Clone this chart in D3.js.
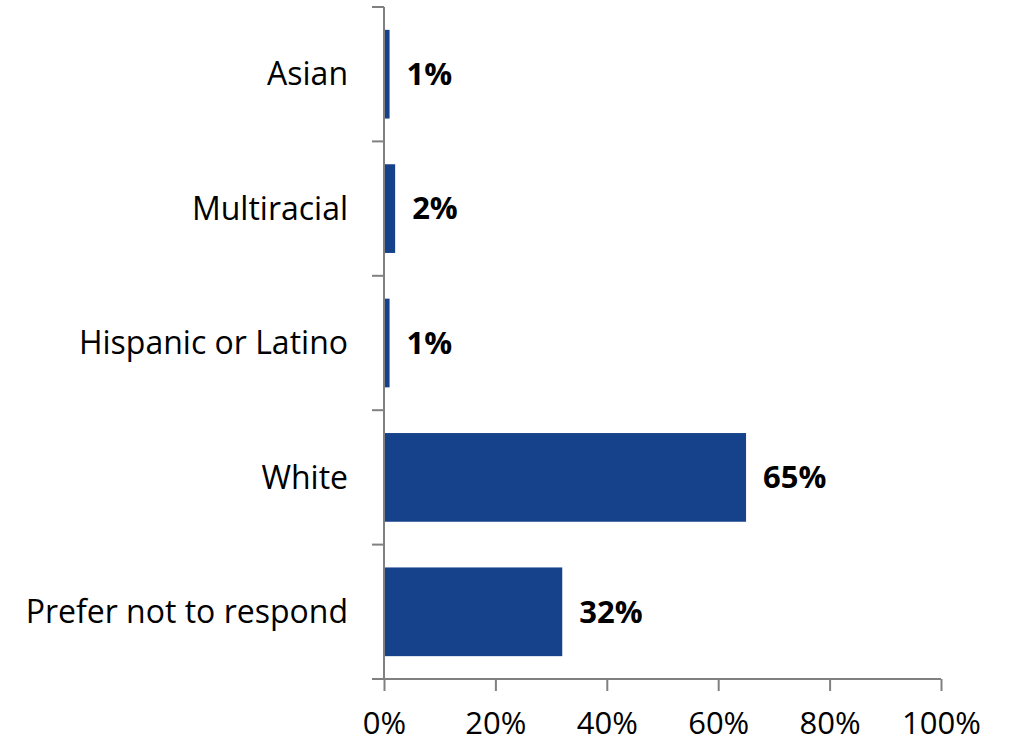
<!DOCTYPE html>
<html><head><meta charset="utf-8">
<script src="https://cdn.jsdelivr.net/npm/d3@7"></script>
<style>body{margin:0;background:#fff}svg{display:block}text{font-family:"Open Sans",sans-serif}</style>
</head><body>
<svg id="c" width="1015" height="744"></svg>
<script>
const categories = ["Asian","Multiracial","Hispanic or Latino","White","Prefer not to respond"];
const values = [1,2,1,65,32];
const xTicks = [0,20,40,60,80,100];

const svg = d3.select("#c");
const pLeft = 384, pRight = 941, pTop = 7, pBottom = 679;
const x = d3.scaleLinear().domain([0,100]).range([pLeft,pRight]);
const y = d3.scaleBand().domain(categories).range([pTop,pBottom]).paddingInner(0.34).paddingOuter(0.17);
const axisColor = "#808080";
const barColor = "#15428A";

svg.selectAll("rect.bar").data(categories).join("rect")
  .attr("class","bar")
  .attr("x", x(0)).attr("y", d=>y(d))
  .attr("width", (d,i)=>x(values[i])-x(0))
  .attr("height", y.bandwidth())
  .attr("fill", barColor);

// y axis line and category boundary ticks
svg.append("line").attr("x1",pLeft).attr("x2",pLeft).attr("y1",pTop).attr("y2",pBottom)
  .attr("stroke",axisColor).attr("stroke-width",2);
const bounds = d3.range(categories.length+1).map(i=>pTop + i*(pBottom-pTop)/categories.length);
svg.selectAll("line.yt").data(bounds).join("line").attr("class","yt")
  .attr("x1",pLeft-12).attr("x2",pLeft).attr("y1",d=>d).attr("y2",d=>d)
  .attr("stroke",axisColor).attr("stroke-width",2);

// x axis
const xAxis = d3.axisBottom(x).tickValues(xTicks).tickFormat(d=>d+"%").tickSize(12).tickSizeOuter(0);
const gx = svg.append("g").attr("transform",`translate(0,${pBottom})`).call(xAxis);
gx.select(".domain").attr("stroke",axisColor).attr("stroke-width",2).attr("d",`M${pLeft-12},0H${pRight}`);
gx.selectAll(".tick line").attr("stroke",axisColor).attr("stroke-width",2);
gx.selectAll(".tick text").attr("font-size",31).attr("fill","#000").attr("y",55).attr("dy","0")
  .style("font-family","'Open Sans',sans-serif");

// category labels
svg.selectAll("text.cat").data(categories).join("text").attr("class","cat")
  .attr("x", pLeft-36).attr("y", d=>y(d)+y.bandwidth()/2).attr("dy","0.35em")
  .attr("text-anchor","end").attr("font-size",32).attr("fill","#000").text(d=>d);

// value labels
svg.selectAll("text.val").data(categories).join("text").attr("class","val")
  .attr("x",(d,i)=>x(values[i])+17).attr("y", d=>y(d)+y.bandwidth()/2).attr("dy","0.35em")
  .attr("font-size",31).attr("font-weight","bold").attr("fill","#000")
  .text((d,i)=>values[i]+"%");
</script>
</body></html>
